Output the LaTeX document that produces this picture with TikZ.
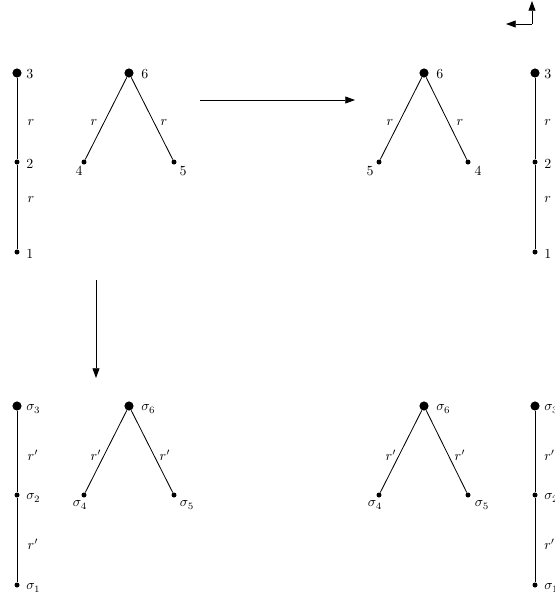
\documentclass[tikz,border=0pt]{standalone}
\usetikzlibrary{arrows.meta}
\begin{document}
\begin{tikzpicture}[x=0.72pt,y=-0.72pt,
  bigdot/.style={circle,fill=black,inner sep=0pt,minimum size=6.6pt},
  smalldot/.style={circle,fill=black,inner sep=0pt,minimum size=3.6pt},
  edge/.style={line width=0.6pt},
  arr/.style={line width=0.6pt,-{Triangle[length=7pt,width=5pt]}},
  lab/.style={inner sep=0pt},
  wlab/.style={inner sep=0pt,anchor=west}]
\useasboundingbox (0,0) rectangle (555,600);
\clip (0,0) rectangle (555,600);

% ---------- top left column ----------
\node[bigdot] (a3) at (17,73) {};
\node[smalldot] (a2) at (17,162) {};
\node[smalldot] (a1) at (17,252) {};
\draw[edge] (a3) -- (a2) -- (a1);
\node[wlab] (a3l) at (26,74) {3};
\node[wlab] (a2l) at (26,164) {2};
\node[wlab] (a1l) at (26,254) {1};
\node[lab] (ar1) at (31,123) {$r$};
\node[lab] (ar2) at (31,200) {$r$};

% ---------- top left tree ----------
\node[bigdot] (b6) at (129,73) {};
\node[smalldot] (b4) at (84,162) {};
\node[smalldot] (b5) at (174,162) {};
\draw[edge] (b4) -- (b6) -- (b5);
\node[wlab] (b6l) at (141,74) {6};
\node[lab] (b4l) at (79,171) {4};
\node[lab] (b5l) at (183,171) {5};
\node[lab] (br1) at (94,123) {$r$};
\node[lab] (br2) at (164,123) {$r$};

% ---------- top right tree ----------
\node[bigdot] (c6) at (424,73) {};
\node[smalldot] (c5) at (379,162) {};
\node[smalldot] (c4) at (468,162) {};
\draw[edge] (c5) -- (c6) -- (c4);
\node[wlab] (c6l) at (436,74) {6};
\node[lab] (c5l) at (370,171) {5};
\node[lab] (c4l) at (478,171) {4};
\node[lab] (cr1) at (390,123) {$r$};
\node[lab] (cr2) at (460,123) {$r$};

% ---------- top right column ----------
\node[bigdot] (d3) at (535,73) {};
\node[smalldot] (d2) at (535,162) {};
\node[smalldot] (d1) at (535,252) {};
\draw[edge] (d3) -- (d2) -- (d1);
\node[wlab] (d3l) at (544,74) {3};
\node[wlab] (d2l) at (544,164) {2};
\node[wlab] (d1l) at (544,254) {1};
\node[wlab] (dr1) at (544,123) {$r$};
\node[wlab] (dr2) at (544,200) {$r$};

% ---------- bottom left column ----------
\node[bigdot] (e3) at (17,406) {};
\node[smalldot] (e2) at (17,495) {};
\node[smalldot] (e1) at (17,585) {};
\draw[edge] (e3) -- (e2) -- (e1);
\node[wlab] (e3l) at (26,409) {$\sigma_3$};
\node[wlab] (e2l) at (26,498) {$\sigma_2$};
\node[wlab] (e1l) at (26,588) {$\sigma_1$};
\node[lab] (er1) at (33,455) {$r'$};
\node[lab] (er2) at (33,544) {$r'$};

% ---------- bottom left tree ----------
\node[bigdot] (f6) at (129,406) {};
\node[smalldot] (f4) at (84,495) {};
\node[smalldot] (f5) at (174,495) {};
\draw[edge] (f4) -- (f6) -- (f5);
\node[wlab] (f6l) at (141,409) {$\sigma_6$};
\node[lab] (f4l) at (80,505) {$\sigma_4$};
\node[lab] (f5l) at (187,505) {$\sigma_5$};
\node[lab] (fr1) at (96,455) {$r'$};
\node[lab] (fr2) at (165,455) {$r'$};

% ---------- bottom right tree ----------
\node[bigdot] (g6) at (424,406) {};
\node[smalldot] (g4) at (379,495) {};
\node[smalldot] (g5) at (468,495) {};
\draw[edge] (g4) -- (g6) -- (g5);
\node[wlab] (g6l) at (436,409) {$\sigma_6$};
\node[lab] (g4l) at (375,505) {$\sigma_4$};
\node[lab] (g5l) at (482,505) {$\sigma_5$};
\node[lab] (gr1) at (391,455) {$r'$};
\node[lab] (gr2) at (460,455) {$r'$};

% ---------- bottom right column ----------
\node[bigdot] (h3) at (535,406) {};
\node[smalldot] (h2) at (535,495) {};
\node[smalldot] (h1) at (535,585) {};
\draw[edge] (h3) -- (h2) -- (h1);
\node[wlab] (h3l) at (544,409) {$\sigma_3$};
\node[wlab] (h2l) at (544,498) {$\sigma_2$};
\node[wlab] (h1l) at (544,588) {$\sigma_1$};
\node[wlab] (hr1) at (544,455) {$r'$};
\node[wlab] (hr2) at (544,544) {$r'$};

% ---------- arrows ----------
\coordinate (hs) at (200,100);
\coordinate (he) at (355,100);
\draw[arr] (hs) -- (he);
\coordinate (vs) at (96,280);
\coordinate (ve) at (96,378);
\draw[arr] (vs) -- (ve);

% ---------- corner axes ----------
\coordinate (ax0) at (532,24);
\coordinate (axu) at (532,1);
\coordinate (axl) at (506,24);
\draw[arr] (ax0) -- (axu);
\draw[arr] (ax0) -- (axl);
\end{tikzpicture}
\end{document}
